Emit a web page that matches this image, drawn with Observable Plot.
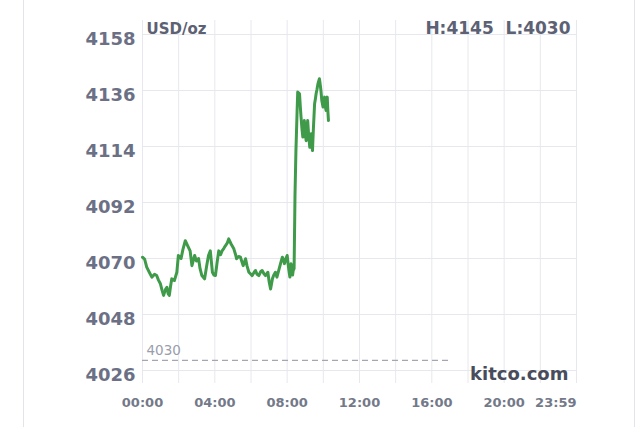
<!DOCTYPE html>
<html>
<head>
<meta charset="utf-8">
<script src="https://cdn.jsdelivr.net/npm/d3@7"></script>
<script src="https://cdn.jsdelivr.net/npm/@observablehq/plot@0.6"></script>
<style>
  html, body { margin: 0; padding: 0; background: #ffffff; }
  #wrap { position: relative; width: 640px; height: 427px; overflow: hidden; }
  #card { position: absolute; left: 23px; top: 0; width: 610px; height: 427px;
          border-left: 1px solid #e3e4e9; border-right: 1px solid #e3e4e9; pointer-events: none; }
</style>
</head>
<body>
<div id="wrap"><div id="card"></div></div>
<script>
// minutes after 00:00
const times = [0,7,14,23,31,40,47,53,59,65,70,76,81,85,89,93,97,106,114,119,128,134,142,150,158,164,173,179,186,191,197,206,213,219,225,232,237,242,247,253,259,264,270,275,281,286,294,303,309,312,319,325,334,342,347,353,358,364,370,375,380,386,392,397,403,408,416,420,425,431,435,441,446,452,458,464,468,471,476,480,485,489,493,498,500,503,506,509,513,515,521,524,526,529,532,535,537,540,543,545,548,551,555,557,560,562,564,567,571,574,576,579,582,587,589,592,595,599,601,604,606,609,611,613,615,617];
// USD/oz
const prices = [4070.5,4069.8,4066.6,4064.5,4062.7,4063.8,4063.3,4061.5,4060.2,4057.5,4055.5,4057.8,4058.7,4056.2,4055.5,4059,4062,4061.4,4064.6,4071.2,4070,4073.5,4077,4075,4073,4067.2,4071.2,4069,4070,4066,4063.3,4062,4067.2,4071.2,4073,4064.6,4063.5,4063.3,4068,4073,4071.5,4073,4074,4075,4076,4077.7,4075.7,4073.8,4071.5,4069.9,4070.8,4070.5,4067.2,4069.9,4067,4064.6,4064,4063.3,4064.5,4065.3,4063.8,4063.3,4064.8,4065.3,4064,4063.3,4064.6,4061,4058,4062,4063.3,4064.6,4062.7,4065.3,4068,4070.5,4069.5,4068,4070,4071.2,4066,4062.7,4067.9,4063.5,4065.3,4066,4095,4112,4128,4135.4,4134.7,4129,4125.6,4121,4117.7,4121,4124.2,4119,4116.3,4120,4124.2,4119,4113.7,4116,4119,4115,4112.4,4121,4130.8,4133,4134.7,4136.5,4138.6,4140.6,4139,4136,4132,4129.5,4131,4133.4,4130,4128.2,4131,4133.4,4128,4124.2];

const yTicks = [4026, 4048, 4070, 4092, 4114, 4136, 4158];
const xGrid = [0,120,240,360,480,600,720,840,960,1080,1200,1320,1440];
const xTicks = [0, 240, 480, 720, 960, 1200];
const xTickLabels = ["00:00", "04:00", "08:00", "12:00", "16:00", "20:00"];
const endTick = 1440;
const endTickLabel = "23:59";
const unitLabel = "USD/oz";
const high = 4145;
const low = 4030;
const lowLineEnd = 1022;
const brand = "kitco.com";

const data = times.map((t, i) => ({t, p: prices[i]}));

const chart = Plot.plot({
  width: 640,
  height: 427,
  marginLeft: 142,
  marginRight: 64,
  marginTop: 20,
  marginBottom: 44,
  x: {domain: [0, 1440], axis: null},
  y: {domain: [4020.9, 4163.5], axis: null},
  style: {fontFamily: "DejaVu Sans", background: "transparent"},
  marks: [
    Plot.ruleX(xGrid, {x: d => d, stroke: "#e7e8ee", strokeWidth: 1}),
    Plot.ruleY(yTicks, {y: d => d, stroke: "#e7e8ee", strokeWidth: 1}),
    Plot.ruleY([low], {y: d => d, x1: 0, x2: lowLineEnd, stroke: "#a4a7b2", strokeWidth: 1.2, strokeDasharray: "6,4"}),
    Plot.text([low], {x: 0, y: d => d, text: d => String(d), dx: 4, dy: -10, textAnchor: "start", lineAnchor: "middle", fontSize: 13.5, fill: "#9a9dab"}),
    Plot.line(data, {x: "t", y: "p", stroke: "#3f9b4a", strokeWidth: 3, strokeLinejoin: "round", strokeLinecap: "round"}),
    Plot.text(yTicks, {y: d => d, text: d => String(d), frameAnchor: "left", dx: -7, dy: 5, textAnchor: "end", lineAnchor: "middle", fontSize: 18, fontWeight: "bold", fill: "#6b7085"}),
    Plot.text(xTicks, {x: d => d, text: (d, i) => xTickLabels[i], frameAnchor: "bottom", dy: 19, textAnchor: "middle", lineAnchor: "middle", fontSize: 13, fontWeight: "bold", fill: "#747989"}),
    Plot.text([endTick], {x: d => d, text: () => endTickLabel, frameAnchor: "bottom", dy: 19, textAnchor: "end", lineAnchor: "middle", fontSize: 13, fontWeight: "bold", fill: "#747989"}),
    Plot.text([unitLabel], {text: d => d, frameAnchor: "top-left", dx: 4, dy: 8.5, textAnchor: "start", lineAnchor: "middle", fontSize: 15, fontWeight: "bold", fill: "#5c6173"}),
    Plot.text([`H:${high}\u00a0\u00a0L:${low}`], {text: d => d, frameAnchor: "top-right", dx: -6, dy: 8, textAnchor: "end", lineAnchor: "middle", fontSize: 17, fontWeight: "bold", fill: "#5c6173"}),
    Plot.text([brand], {text: d => d, frameAnchor: "bottom-right", dx: -8, dy: -9, textAnchor: "end", lineAnchor: "middle", fontSize: 18, fontWeight: "bold", fill: "#484c5b"})
  ]
});
chart.style.position = "absolute";
chart.style.left = "0";
chart.style.top = "0";
document.getElementById("wrap").appendChild(chart);
</script>
</body>
</html>
